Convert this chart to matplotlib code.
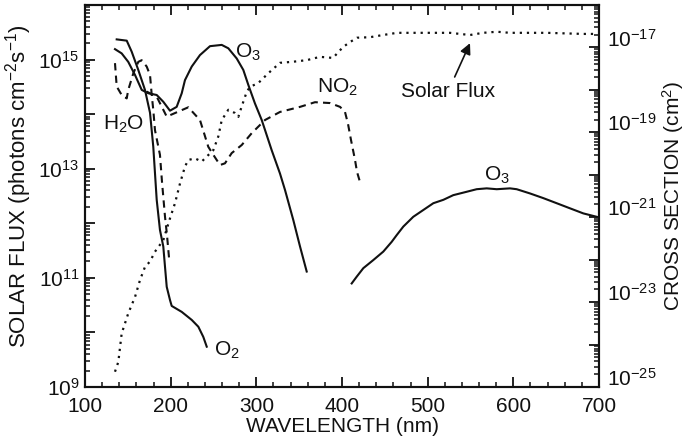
import numpy as np
import matplotlib
matplotlib.use("Agg")
import matplotlib.pyplot as plt
import matplotlib.transforms as mtransforms
from matplotlib.ticker import FixedLocator, FixedFormatter, LogLocator, MultipleLocator, NullFormatter

plt.rcParams['font.family'] = ['Liberation Sans', 'DejaVu Sans']
plt.rcParams['mathtext.fontset'] = 'custom'
plt.rcParams['mathtext.rm'] = 'Liberation Sans'
plt.rcParams['mathtext.it'] = 'Liberation Sans:italic'
plt.rcParams['mathtext.default'] = 'regular'

# --- solar flux (photons cm-2 s-1), left axis ---
flux_wl = [135.0, 138.9, 142.8, 150.5, 158.4, 164.2, 170.0, 175.9, 181.7, 191.4,
           199.2, 205.1, 210.9, 216.7, 220.6, 228.4, 236.2, 243.9, 249.8, 255.6,
           259.6, 267.3, 275.1, 279.0, 282.9, 288.8, 292.6, 302.3, 314.0, 327.6,
           342.8, 359.1, 374.3, 389.5, 401.2, 409.3, 417.5, 432.7, 447.9, 464.2,
           479.4, 510.9, 526.1, 549.4, 564.6, 580.9, 596.1, 639.3, 681.3, 697.7]
flux_log = [9.28, 9.46, 9.98, 10.35, 10.65, 10.96, 11.20, 11.30, 11.48, 11.69,
            12.09, 12.37, 12.73, 13.04, 13.16, 13.19, 13.13, 13.25, 13.34, 13.59,
            13.89, 14.08, 14.02, 13.95, 14.14, 14.41, 14.50, 14.57, 14.75, 14.94,
            14.96, 14.99, 15.05, 15.03, 15.23, 15.32, 15.40, 15.41, 15.45, 15.49,
            15.49, 15.49, 15.49, 15.45, 15.49, 15.51, 15.49, 15.49, 15.47, 15.47]

# --- cross sections (cm2), right axis ---
o2_wl = [137.0, 148.7, 154.5, 162.2, 170.0, 175.9, 179.7, 183.7, 187.5, 191.4,
         193.4, 195.4, 199.2, 201.2, 212.9, 224.6, 232.3, 238.1, 242.1]
o2_log = [-16.81, -16.84, -17.10, -17.53, -18.00, -18.54, -19.34, -20.59, -21.30, -21.69,
          -22.17, -22.64, -22.95, -23.09, -23.23, -23.42, -23.58, -23.82, -24.05]

o3_uv_wl = [135.0, 142.8, 150.5, 158.4, 166.2, 173.9, 183.7, 191.4, 199.2, 207.0,
            212.9, 216.7, 224.6, 234.2, 245.9, 259.6, 267.3, 277.1, 284.8, 290.6,
            298.4, 306.3, 317.9, 327.6, 333.5, 343.2, 351.0, 358.8]
o3_uv_log = [-17.04, -17.14, -17.34, -17.65, -18.00, -18.08, -18.12, -18.28, -18.49, -18.40,
             -18.08, -17.77, -17.45, -17.18, -16.97, -16.94, -17.02, -17.26, -17.53, -17.88,
             -18.32, -18.71, -19.42, -19.97, -20.36, -21.07, -21.69, -22.28]

o3_vis_wl = [411.3, 417.2, 424.9, 436.5, 448.2, 458.0, 463.9, 471.6, 483.2, 494.9,
             506.6, 518.3, 529.9, 545.6, 557.2, 568.9, 580.6, 596.1, 603.9, 619.5,
             635.0, 650.6, 666.1, 681.7, 697.3]
o3_vis_log = [-22.56, -22.40, -22.20, -22.01, -21.81, -21.58, -21.42, -21.22, -20.99, -20.83,
              -20.67, -20.59, -20.48, -20.40, -20.34, -20.32, -20.34, -20.32, -20.34, -20.44,
              -20.55, -20.67, -20.79, -20.91, -20.99]

h2o_wl = [135.0, 137.0, 142.8, 148.7, 150.5, 156.4, 162.2, 166.2, 172.0, 175.9,
          177.9, 179.7, 181.7, 187.5, 189.9, 193.4, 195.7, 198.1]
h2o_log = [-17.37, -17.92, -18.12, -18.20, -18.00, -17.61, -17.34, -17.30, -17.45, -17.65,
           -18.12, -18.47, -18.95, -19.53, -20.17, -20.99, -21.42, -21.96]

no2_wl = [172.0, 183.7, 195.4, 220.6, 234.2, 243.9, 249.8, 257.6, 263.4, 271.2,
          282.9, 294.6, 310.1, 327.6, 351.0, 368.5, 386.0, 397.7, 403.5, 407.0,
          410.5, 415.2, 417.5, 421.0]
no2_log = [-18.04, -18.16, -18.63, -18.41, -18.71, -19.34, -19.53, -19.77, -19.73, -19.49,
           -19.30, -19.02, -18.71, -18.52, -18.40, -18.29, -18.31, -18.40, -18.52, -18.80,
           -19.18, -19.65, -19.93, -20.17]

ink = '#111111'

fig = plt.figure(figsize=(6.85, 4.45), dpi=100)
ax = fig.add_axes([85 / 685, 1 - 387 / 445, 514 / 685, 382 / 445])
ax2 = ax.twinx()

ax.plot(flux_wl, 10.0 ** np.array(flux_log), color=ink, lw=1.6, ls=(0, (1, 2.2)))

solid = dict(color=ink, lw=1.5)
dashed = dict(color=ink, lw=1.5, ls=(0, (3.5, 2.5)))
ax2.plot(o2_wl, 10.0 ** np.array(o2_log), **solid)
ax2.plot(o3_uv_wl, 10.0 ** np.array(o3_uv_log), **solid)
ax2.plot(o3_vis_wl, 10.0 ** np.array(o3_vis_log), **solid)
ax2.plot(h2o_wl, 10.0 ** np.array(h2o_log), **dashed)
ax2.plot(no2_wl, 10.0 ** np.array(no2_log), **dashed)

ax.set_xlim(100, 700)
ax.set_yscale('log')
ax.set_ylim(1e9, 1e16)
ax2.set_yscale('log')
ax2.set_ylim(1e-25, 1e-16)

# x axis: labels every 100 nm, minor ticks every 20 nm, ticks on top as well
ax.xaxis.set_major_locator(MultipleLocator(100))
ax.xaxis.set_minor_locator(MultipleLocator(20))

# left axis: a tick per decade, labelled every other decade
left_dec = list(range(9, 17))
ax.yaxis.set_major_locator(FixedLocator([10.0 ** d for d in left_dec]))
ax.yaxis.set_major_formatter(FixedFormatter(
    [r'$10^{%d}$' % d if d % 2 == 1 else '' for d in left_dec]))
ax.yaxis.set_minor_locator(LogLocator(base=10, subs=np.arange(2, 10), numticks=20))
ax.yaxis.set_minor_formatter(NullFormatter())

right_dec = list(range(-25, -15))
ax2.yaxis.set_major_locator(FixedLocator([10.0 ** d for d in right_dec]))
ax2.yaxis.set_major_formatter(FixedFormatter(
    [r'$10^{%d}$' % d if d % 2 == 1 else '' for d in right_dec]))
ax2.yaxis.set_minor_locator(LogLocator(base=10, subs=np.arange(2, 10), numticks=20))
ax2.yaxis.set_minor_formatter(NullFormatter())

ax.tick_params(axis='x', which='both', direction='in', top=True, labelsize=15, colors=ink, pad=7)
ax.tick_params(axis='x', which='major', length=7, width=1.3)
ax.tick_params(axis='x', which='minor', length=3.5, width=1.1)
ax.tick_params(axis='y', which='both', direction='in', right=False, labelsize=15, colors=ink, pad=4)
ax.tick_params(axis='y', which='major', length=7, width=1.3)
ax.tick_params(axis='y', which='minor', length=3.5, width=1.1)
ax2.tick_params(axis='y', which='both', direction='in', labelsize=15, colors=ink, pad=6)
ax2.tick_params(axis='y', which='major', length=7, width=1.3)
ax2.tick_params(axis='y', which='minor', length=3.5, width=1.1)

# cross-section labels sit a little above their ticks
lift = mtransforms.ScaledTranslation(0, 0.10, fig.dpi_scale_trans)
for t in ax2.yaxis.get_major_ticks():
    t.label2.set_transform(t.label2.get_transform() + lift)

for a in (ax, ax2):
    for s in a.spines.values():
        s.set_linewidth(1.5)
        s.set_color(ink)

ax.set_xlabel('WAVELENGTH (nm)', fontsize=15, color=ink, labelpad=1)
ax.set_ylabel(r'SOLAR FLUX (photons cm$^{-2}$s$^{-1}$)', fontsize=16, color=ink)
ax.yaxis.set_label_coords(-0.099, 0.526)
ax2.set_ylabel(r'CROSS SECTION (cm$^{2}$)', fontsize=15, color=ink, labelpad=2)

# curve labels (placed in solar-flux axis coordinates)
lab = dict(fontsize=15, color=ink, ha='center', va='center')
ax.text(290.3, 10 ** 15.14, r'O$_3$', **lab)
ax.text(394.2, 10 ** 14.50, r'NO$_2$', **lab)
ax.text(145.5, 10 ** 13.82, r'H$_2$O', **lab)
ax.text(265.8, 10 ** 9.68, r'O$_2$', **lab)
ax.text(580.9, 10 ** 12.88, r'O$_3$', **lab)
ax.annotate('Solar Flux', xy=(549.4, 10 ** 15.30), xytext=(523.7, 10 ** 14.41),
            fontsize=15, color=ink, ha='center', va='center',
            arrowprops=dict(arrowstyle='-|>', color=ink, lw=1.2, mutation_scale=16,
                            shrinkA=2, shrinkB=0))

fig.savefig('out.png', dpi=100)
